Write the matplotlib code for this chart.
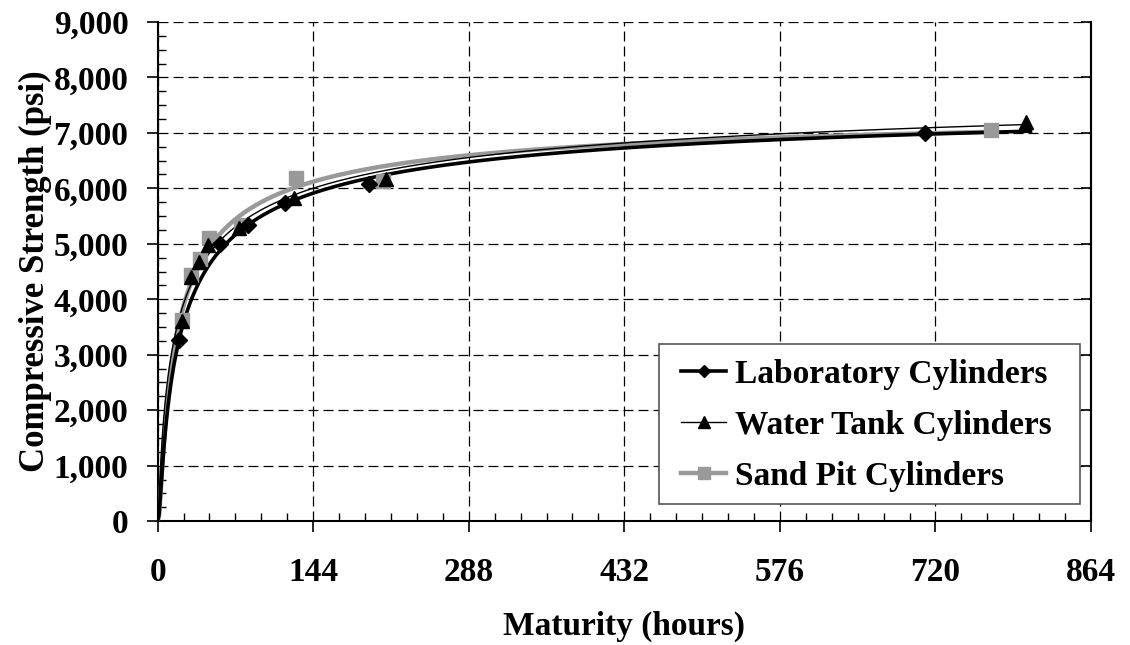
import numpy as np
import matplotlib.pyplot as plt
from matplotlib.patches import Rectangle
from matplotlib.ticker import MultipleLocator, FuncFormatter

plt.rcParams['font.family'] = ['Liberation Serif', 'DejaVu Serif']
plt.rcParams['font.weight'] = 'bold'

# maturity (hours) and compressive strength (psi)
lab_hours = [20, 58, 84, 118, 196, 710]
lab_psi = [3260, 4990, 5340, 5740, 6070, 7000]
tank_hours = [23, 30.5, 38, 46.5, 75, 126, 211, 804]
tank_psi = [3600, 4410, 4680, 4980, 5280, 5830, 6170, 7200]
sand_hours = [23, 30.5, 39, 47.5, 77, 128, 209, 771]
sand_psi = [3620, 4440, 4720, 5100, 5340, 6190, 6130, 7060]

# end of each fitted strength-maturity curve
lab_curve_end = 808
tank_curve_end = 804
sand_curve_end = 775


def fit_strength(hours, psi):
    """Least squares fit of S = Su*exp(-(tau/t)^beta) to the points."""
    t = np.asarray(hours, float)
    s = np.asarray(psi, float)
    best = None
    for su in np.linspace(s.max() * 1.005, s.max() * 1.4, 400):
        yy = np.log(-np.log(s / su))
        slope, icpt = np.polyfit(np.log(t), yy, 1)
        beta = -slope
        tau = np.exp(icpt / beta)
        err = np.sum((su * np.exp(-(tau / t) ** beta) - s) ** 2)
        if best is None or err < best[0]:
            best = (err, su, tau, beta)
    return best[1:]


def curve(hours, psi, t_end):
    su, tau, beta = fit_strength(hours, psi)
    t = np.linspace(0.01, t_end, 600)
    return np.r_[0, t], np.r_[0, su * np.exp(-(tau / t) ** beta)]


fig = plt.figure(figsize=(11.3, 6.45), dpi=100)
ax = fig.add_axes([0.1395, 0.192, 0.8260, 0.774])

gray = '#999999'
x, y = curve(sand_hours, sand_psi, sand_curve_end)
ax.plot(x, y, color=gray, lw=3.2, zorder=3)
x, y = curve(lab_hours, lab_psi, lab_curve_end)
ax.plot(x, y, color='black', lw=2.6, zorder=4)
x, y = curve(tank_hours, tank_psi, tank_curve_end)
ax.plot(x, y, color='black', lw=1.0, zorder=5)

ax.plot(sand_hours, sand_psi, 's', color=gray, ms=10, zorder=6)
ax.plot(lab_hours, lab_psi, 'D', color='black', ms=8.5, zorder=7)
ax.plot(tank_hours, tank_psi, '^', color='black', ms=10, zorder=8)

# legend entries (line + marker)
ax.plot([], [], '-D', color='black', lw=2.6, ms=6, label='Laboratory Cylinders')
ax.plot([], [], '-^', color='black', lw=1.0, ms=8, label='Water Tank Cylinders')
ax.plot([], [], '-s', color=gray, lw=3.2, ms=8, label='Sand Pit Cylinders')

ax.set_xlim(0, 864)
ax.set_ylim(0, 9000)
ax.xaxis.set_major_locator(MultipleLocator(144))
ax.xaxis.set_minor_locator(MultipleLocator(24))
ax.yaxis.set_major_locator(MultipleLocator(1000))
ax.yaxis.set_minor_locator(MultipleLocator(250))
ax.yaxis.set_major_formatter(FuncFormatter(lambda v, p: f'{int(v):,}'))

ax.grid(True, which='major', color='black', lw=0.9, linestyle=(0, (8, 4)))
ax.spines['top'].set_visible(False)
for side in ['left', 'bottom', 'right']:
    ax.spines[side].set_linewidth(1.5)

ax.tick_params(which='major', direction='out', length=8, width=1.2,
               labelsize=24)
ax.tick_params(which='minor', direction='in', length=6, width=1.0)
ax.tick_params(axis='x', which='major', pad=18)
ax.tick_params(axis='y', which='major', pad=13)

# right side: major ticks pointing inward, no labels
right = ax.secondary_yaxis('right')
right.yaxis.set_major_locator(MultipleLocator(1000))
right.tick_params(direction='in', length=7, width=1.2, labelright=False)
right.spines['right'].set_linewidth(1.5)

ax.set_xlabel('Maturity (hours)', fontsize=24, fontweight='bold', labelpad=16)
ax.set_ylabel('Compressive Strength (psi)', fontsize=25, fontweight='bold',
              labelpad=1)

# legend box drawn separately so its padding can be wider than tall
ax.add_patch(Rectangle((0.537, 0.0345), 0.451, 0.3205, transform=ax.transAxes,
                       facecolor='white', edgecolor='#555555', lw=1.2,
                       zorder=9))
leg = ax.legend(loc='center left', bbox_to_anchor=(0.561, 0.192), fontsize=24,
                frameon=False, handlelength=1.35, handletextpad=0.25,
                borderpad=0, labelspacing=0.6, borderaxespad=0)
leg.set_zorder(10)

fig.savefig('out.png', dpi=100)
